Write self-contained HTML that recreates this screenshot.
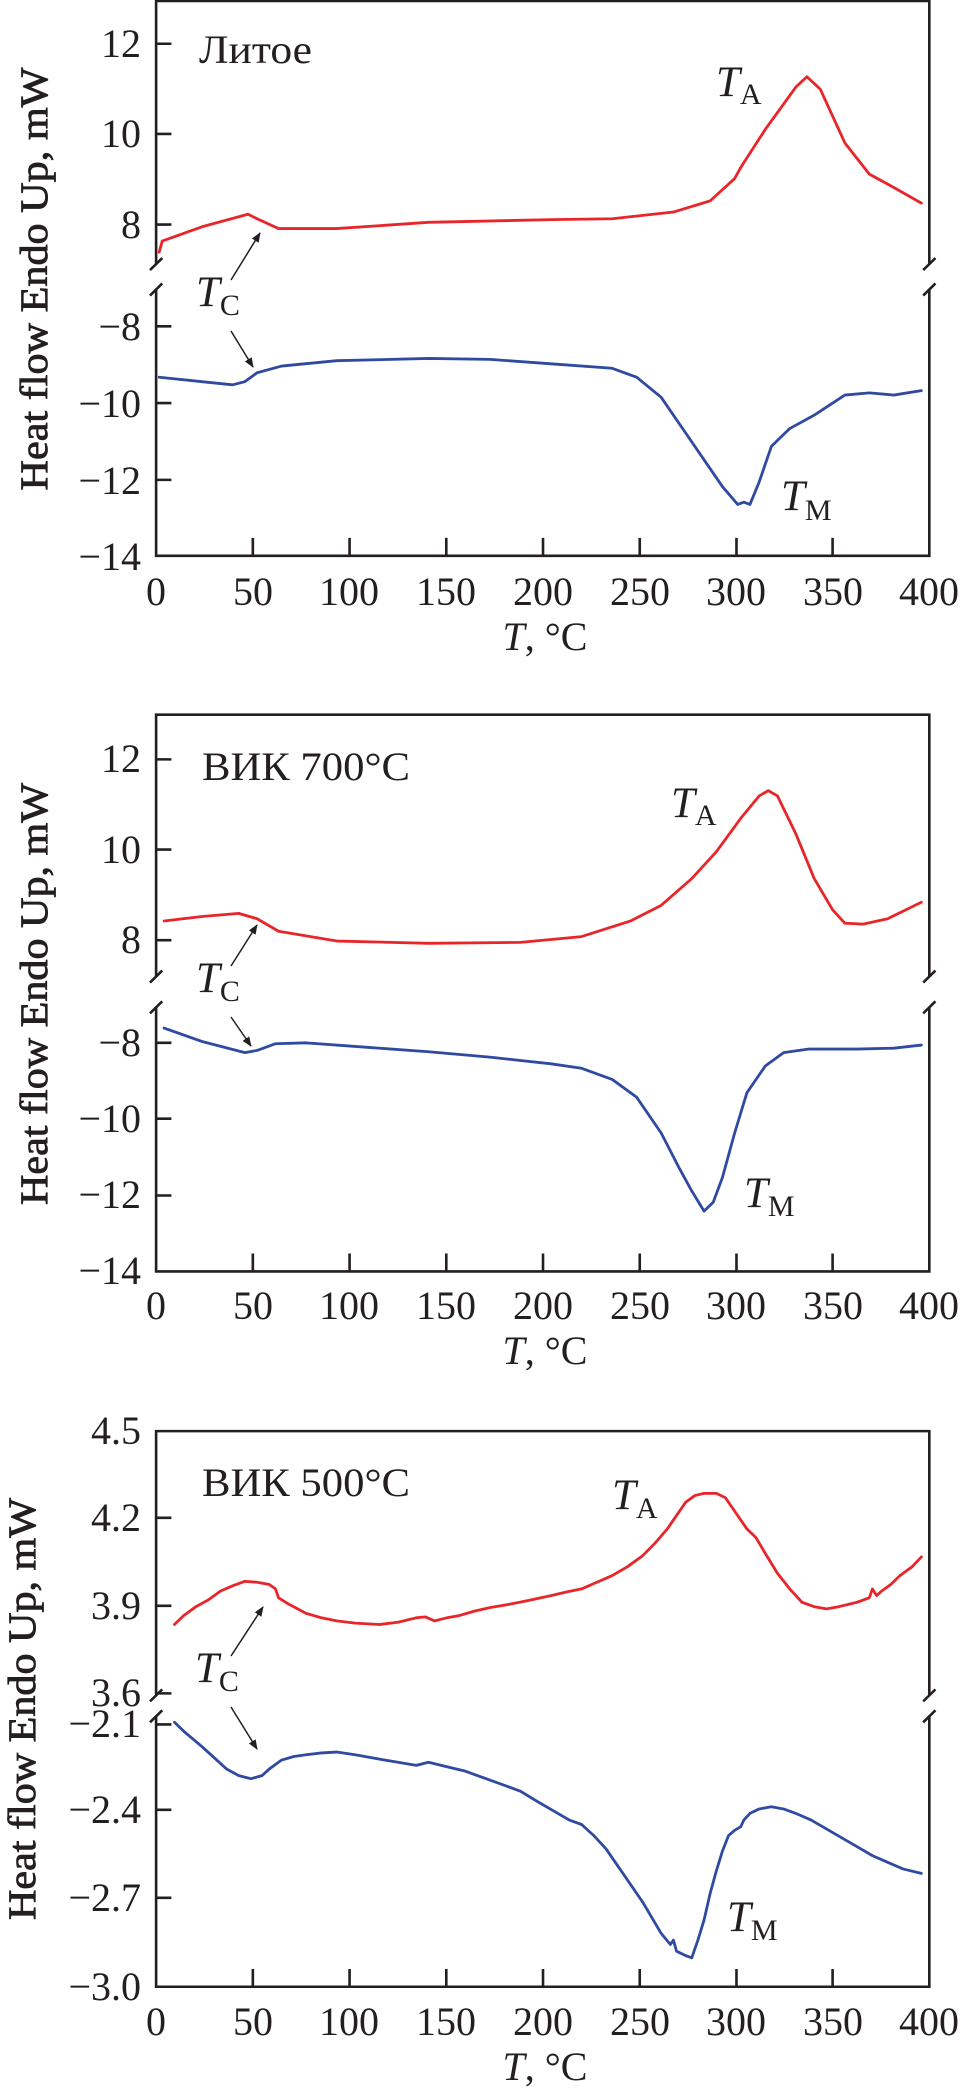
<!DOCTYPE html>
<html><head><meta charset="utf-8"><style>
html,body{margin:0;padding:0;background:#fff}
svg{display:block}
text{font-family:"Liberation Serif","Noto Serif CJK SC",serif;fill:#231f20}
.ax{fill:none;stroke:#231f20;stroke-width:2.6;vector-effect:non-scaling-stroke}
.r{fill:none;stroke:#e8262a;stroke-width:2.8;stroke-linejoin:round;stroke-linecap:round;vector-effect:non-scaling-stroke}
.b{fill:none;stroke:#2f4aa0;stroke-width:2.8;stroke-linejoin:round;stroke-linecap:round;vector-effect:non-scaling-stroke}
.tk{font-size:40px}
.tl{font-size:40px}
.yt{font-size:39px;stroke:#231f20;stroke-width:0.8}
.lab{font-size:40px}
.it{font-size:43px;font-style:italic}
.sub{font-size:30px}
.arr{stroke:#231f20;stroke-width:1.5;fill:none}
</style></head><body>
<svg width="960" height="2097" viewBox="0 0 960 2097" xmlns="http://www.w3.org/2000/svg">
<defs><marker id="ah" markerWidth="10" markerHeight="10" refX="9" refY="5" orient="auto" markerUnits="userSpaceOnUse"><path d="M0,1 L10,5 L0,9 Z" fill="#231f20"/></marker></defs>

<!-- Chart 1 -->
<g transform="scale(0.6122,0.4464)">
<path class="ax" d="M255,592 V2 H1518 V592 M1518,648 V1245 H255 V648"/>
<path class="ax" d="M245,605 L265,578 M245,662 L265,635 M1508,605 L1528,578 M1508,662 L1528,635"/>
<path class="ax" d="M255,98 h25 M255,300 h25 M255,503 h25 M255,731 h25 M255,903 h25 M255,1075 h25 M413,1245 v-40 M571,1245 v-40 M729,1245 v-40 M887,1245 v-40 M1045,1245 v-40 M1203,1245 v-40 M1360,1245 v-40"/>
<path class="r" d="M260,565 L265,540 L330,508 L405,480 L420,490 L455,512 L550,512 L700,498 L900,492 L1000,490 L1100,475 L1160,450 L1200,400 L1210,375 L1250,290 L1300,195 L1318,172 L1340,200 L1380,320 L1420,390 L1460,420 L1505,455"/>
<path class="b" d="M260,845 L330,855 L380,862 L400,855 L420,835 L460,820 L550,808 L700,803 L800,805 L900,815 L1000,825 L1040,845 L1080,890 L1120,970 L1160,1050 L1180,1090 L1205,1130 L1215,1125 L1225,1130 L1240,1080 L1260,1000 L1290,960 L1330,930 L1380,885 L1420,880 L1460,885 L1505,875"/>
</g>
<g class="tk" text-anchor="end">
<text x="141" y="57">12</text><text x="141" y="147">10</text><text x="141" y="238">8</text>
<text x="141" y="340">−8</text><text x="141" y="417">−10</text><text x="141" y="494">−12</text><text x="141" y="570">−14</text>
</g>
<g class="tl" text-anchor="middle">
<text x="156" y="605">0</text><text x="253" y="605">50</text><text x="349" y="605">100</text><text x="446" y="605">150</text><text x="543" y="605">200</text><text x="640" y="605">250</text><text x="736" y="605">300</text><text x="833" y="605">350</text><text x="929" y="605">400</text>
</g>
<text class="tl" x="545" y="650" text-anchor="middle"><tspan font-style="italic">T</tspan>, °C</text>
<text class="yt" transform="translate(47,279) rotate(-90)" text-anchor="middle" textLength="423" lengthAdjust="spacingAndGlyphs">Heat flow Endo Up, mW</text>
<text class="lab" x="199" y="63" textLength="113" lengthAdjust="spacingAndGlyphs">Литое</text>
<text x="716" y="96"><tspan class="it">T</tspan><tspan class="sub" dy="8">A</tspan></text>
<text x="196" y="306"><tspan class="it">T</tspan><tspan class="sub" dy="9">C</tspan></text>
<text x="781" y="510"><tspan class="it">T</tspan><tspan class="sub" dy="10">M</tspan></text>
<line class="arr" x1="231" y1="280" x2="260" y2="233" marker-end="url(#ah)"/>
<line class="arr" x1="231" y1="331" x2="253" y2="367" marker-end="url(#ah)"/>

<!-- Chart 2 -->
<g transform="translate(0,700) scale(0.6122,0.4464)">
<path class="ax" d="M255,620 V33 H1518 V620 M1518,688 V1280 H255 V688"/>
<path class="ax" d="M245,633 L265,606 M245,702 L265,675 M1508,633 L1528,606 M1508,702 L1528,675"/>
<path class="ax" d="M255,133 h25 M255,335 h25 M255,538 h25 M255,768 h25 M255,938 h25 M255,1110 h25 M413,1280 v-40 M571,1280 v-40 M729,1280 v-40 M887,1280 v-40 M1045,1280 v-40 M1203,1280 v-40 M1360,1280 v-40"/>
<path class="r" d="M268,495 L330,485 L390,478 L420,490 L455,518 L550,540 L700,545 L850,543 L950,530 L1030,495 L1080,460 L1130,400 L1170,340 L1210,265 L1240,215 L1255,203 L1270,215 L1300,300 L1330,400 L1360,470 L1380,500 L1410,502 L1450,490 L1505,453"/>
<path class="b" d="M268,735 L330,765 L400,790 L420,785 L450,770 L500,768 L600,778 L700,788 L800,800 L900,815 L950,825 L1000,850 L1040,890 L1080,970 L1110,1050 L1130,1100 L1150,1145 L1165,1125 L1180,1070 L1200,970 L1220,880 L1250,820 L1280,790 L1320,782 L1400,782 L1460,780 L1505,773"/>
</g>
<g class="tk" text-anchor="end">
<text x="141" y="772">12</text><text x="141" y="863">10</text><text x="141" y="953">8</text>
<text x="141" y="1056">−8</text><text x="141" y="1132">−10</text><text x="141" y="1208">−12</text><text x="141" y="1284">−14</text>
</g>
<g class="tl" text-anchor="middle">
<text x="156" y="1319">0</text><text x="253" y="1319">50</text><text x="349" y="1319">100</text><text x="446" y="1319">150</text><text x="543" y="1319">200</text><text x="640" y="1319">250</text><text x="736" y="1319">300</text><text x="833" y="1319">350</text><text x="929" y="1319">400</text>
</g>
<text class="tl" x="545" y="1364" text-anchor="middle"><tspan font-style="italic">T</tspan>, °C</text>
<text class="yt" transform="translate(47,994) rotate(-90)" text-anchor="middle" textLength="422" lengthAdjust="spacingAndGlyphs">Heat flow Endo Up, mW</text>
<text class="lab" x="202" y="780" textLength="208" lengthAdjust="spacingAndGlyphs">ВИК 700°C</text>
<text x="671" y="817"><tspan class="it">T</tspan><tspan class="sub" dy="8">A</tspan></text>
<text x="196" y="992"><tspan class="it">T</tspan><tspan class="sub" dy="9">C</tspan></text>
<text x="744" y="1207"><tspan class="it">T</tspan><tspan class="sub" dy="9">M</tspan></text>
<line class="arr" x1="231" y1="966" x2="257" y2="925" marker-end="url(#ah)"/>
<line class="arr" x1="231" y1="1017" x2="251" y2="1046" marker-end="url(#ah)"/>

<!-- Chart 3 -->
<g transform="translate(0,1400) scale(0.6122,0.4445)">
<path class="ax" d="M255,665 V70 H1518 V665 M1518,712 V1320 H255 V712"/>
<path class="ax" d="M245,678 L265,651 M245,725 L265,698 M1508,678 L1528,651 M1508,725 L1528,698"/>
<path class="ax" d="M255,265 h25 M255,463 h25 M255,660 h25 M255,730 h25 M255,922 h25 M255,1120 h25 M413,1320 v-40 M571,1320 v-40 M729,1320 v-40 M887,1320 v-40 M1045,1320 v-40 M1203,1320 v-40 M1360,1320 v-40"/>
<path class="r" d="M285,505 L300,485 L320,465 L340,450 L360,430 L380,418 L400,408 L420,410 L440,415 L450,425 L455,445 L470,458 L500,480 L525,490 L550,497 L580,502 L620,505 L650,500 L680,490 L695,488 L710,497 L730,490 L750,485 L775,475 L800,467 L830,460 L860,452 L900,440 L925,432 L950,425 L975,410 L1000,395 L1025,375 L1050,350 L1070,322 L1090,290 L1105,260 L1120,230 L1135,215 L1150,210 L1170,210 L1185,220 L1200,250 L1220,290 L1235,310 L1250,345 L1270,390 L1290,425 L1310,455 L1330,465 L1350,470 L1370,465 L1400,455 L1420,445 L1425,425 L1432,440 L1440,430 L1455,415 L1470,395 L1490,375 L1505,353"/>
<path class="b" d="M285,725 L300,745 L330,780 L350,805 L370,830 L390,845 L410,852 L428,845 L440,830 L460,810 L480,802 L500,798 L525,794 L550,792 L580,798 L620,808 L650,815 L680,822 L700,815 L730,825 L760,835 L790,850 L820,865 L850,880 L880,905 L905,925 L930,945 L950,955 L970,980 L990,1010 L1010,1050 L1030,1090 L1050,1130 L1065,1165 L1080,1200 L1095,1225 L1100,1215 L1105,1240 L1120,1250 L1130,1255 L1140,1215 L1150,1170 L1160,1110 L1170,1060 L1180,1015 L1190,980 L1200,968 L1210,960 L1215,945 L1225,930 L1240,920 L1260,915 L1280,920 L1300,930 L1325,945 L1350,965 L1375,985 L1400,1005 L1425,1025 L1450,1040 L1475,1055 L1505,1065"/>
</g>
<g class="tk" text-anchor="end">
<text x="141" y="1444">4.5</text><text x="141" y="1531">4.2</text><text x="141" y="1619">3.9</text><text x="141" y="1706">3.6</text>
<text x="141" y="1737">−2.1</text><text x="141" y="1823">−2.4</text><text x="141" y="1911">−2.7</text><text x="141" y="2000">−3.0</text>
</g>
<g class="tl" text-anchor="middle">
<text x="156" y="2035">0</text><text x="253" y="2035">50</text><text x="349" y="2035">100</text><text x="446" y="2035">150</text><text x="543" y="2035">200</text><text x="640" y="2035">250</text><text x="736" y="2035">300</text><text x="833" y="2035">350</text><text x="929" y="2035">400</text>
</g>
<text class="tl" x="545" y="2080" text-anchor="middle"><tspan font-style="italic">T</tspan>, °C</text>
<text class="yt" transform="translate(35,1709) rotate(-90)" text-anchor="middle" textLength="422" lengthAdjust="spacingAndGlyphs">Heat flow Endo Up, mW</text>
<text class="lab" x="202" y="1496" textLength="208" lengthAdjust="spacingAndGlyphs">ВИК 500°C</text>
<text x="612" y="1509"><tspan class="it">T</tspan><tspan class="sub" dy="9">A</tspan></text>
<text x="195" y="1682"><tspan class="it">T</tspan><tspan class="sub" dy="9">C</tspan></text>
<text x="727" y="1931"><tspan class="it">T</tspan><tspan class="sub" dy="9">M</tspan></text>
<line class="arr" x1="231" y1="1656" x2="263" y2="1607" marker-end="url(#ah)"/>
<line class="arr" x1="231" y1="1707" x2="257" y2="1749" marker-end="url(#ah)"/>
</svg>
</body></html>
